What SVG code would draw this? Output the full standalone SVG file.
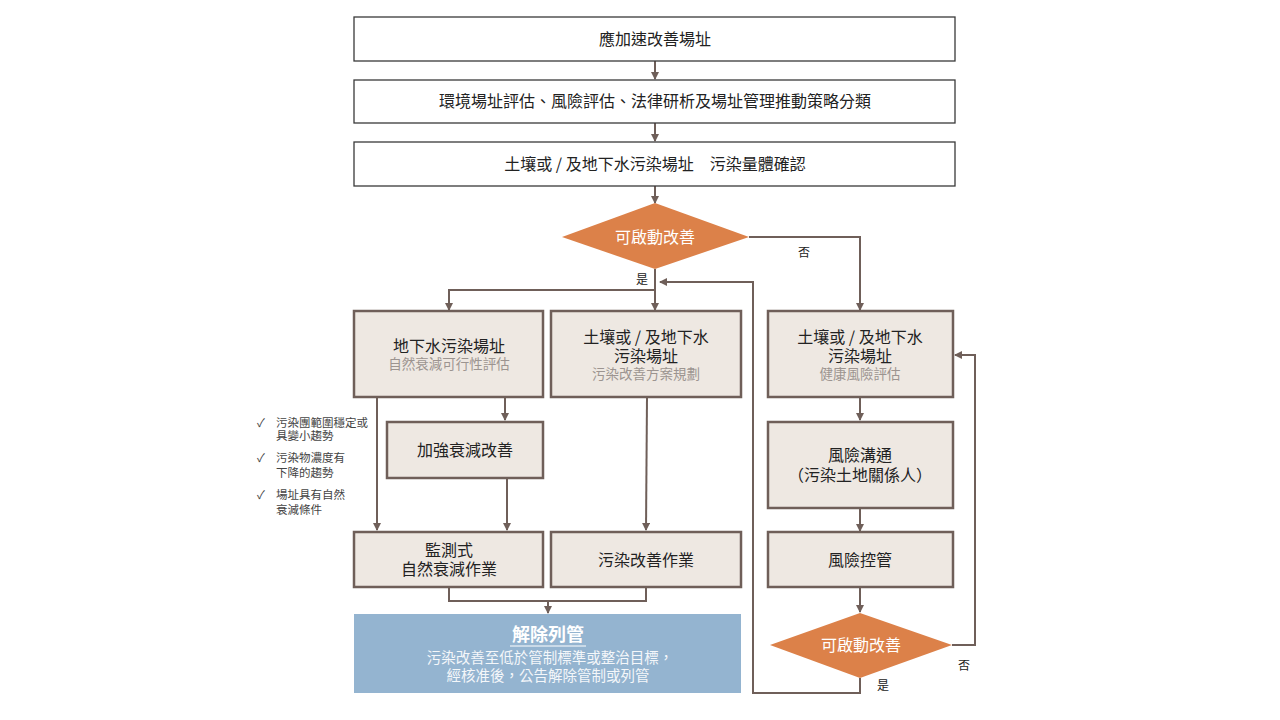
<svg xmlns="http://www.w3.org/2000/svg" width="1280" height="720" viewBox="0 0 1280 720">
<style>
text{font-family:"Noto Sans CJK TC","Noto Sans CJK SC",sans-serif;text-anchor:middle}
.top{fill:#fff;stroke:#3a3a3a;stroke-width:1.3}
.box{fill:#EEE8E2;stroke:#6F5F59;stroke-width:2.5}
.dia{fill:#DC8149}
.t{font-size:16px;fill:#222}
.s{font-size:13.5px;fill:#9C9490}
.w{font-size:16px;fill:#fff}
.lbl{font-size:12px;fill:#222}
.ck{font-size:11.5px;fill:#444;text-anchor:start}
.c{fill:none;stroke:#6F5F59;stroke-width:2}
</style>
<defs>
<marker id="ah" markerWidth="8" markerHeight="8" refX="7" refY="4" orient="auto" markerUnits="userSpaceOnUse">
<path d="M0,0 L8,4 L0,8 Z" fill="#6F5F59"/>
</marker>
</defs>
<rect width="1280" height="720" fill="#fff"/>
<g id="connectors">
<line class="c" x1="655" y1="61" x2="655" y2="79" marker-end="url(#ah)"/>
<line class="c" x1="655" y1="123" x2="655" y2="141" marker-end="url(#ah)"/>
<line class="c" x1="655" y1="186" x2="655" y2="203" marker-end="url(#ah)"/>
<line class="c" x1="655" y1="269" x2="655" y2="310" marker-end="url(#ah)"/>
<polyline class="c" points="655,290 449,290 449,310" marker-end="url(#ah)"/>
<polyline class="c" points="749,237 860,237 860,310" marker-end="url(#ah)"/>
<polyline class="c" points="860,678 860,693 753,693 753,282 660,282" marker-end="url(#ah)"/>
<line class="c" x1="505" y1="397" x2="505" y2="420" marker-end="url(#ah)"/>
<line class="c" x1="377" y1="397" x2="377" y2="530" marker-end="url(#ah)"/>
<line class="c" x1="507" y1="478" x2="507" y2="530" marker-end="url(#ah)"/>
<line class="c" x1="647" y1="397" x2="646" y2="530" marker-end="url(#ah)"/>
<polyline class="c" points="449,587 449,601 646,601 646,587"/>
<line class="c" x1="548" y1="601" x2="548" y2="613" marker-end="url(#ah)"/>
<line class="c" x1="860" y1="397" x2="860" y2="420" marker-end="url(#ah)"/>
<line class="c" x1="860" y1="508" x2="860" y2="531" marker-end="url(#ah)"/>
<line class="c" x1="860" y1="587" x2="860" y2="612" marker-end="url(#ah)"/>
<polyline class="c" points="952,645 975,645 975,355 955,355" marker-end="url(#ah)"/>
<text class="lbl" x="804" y="257">否</text>
<text class="lbl" x="642" y="284">是</text>
<text class="lbl" x="964" y="670">否</text>
<text class="lbl" x="883" y="690">是</text>
</g>
<g id="n1"><rect class="top" x="354" y="17" width="601" height="44"/><text class="t" x="655" y="45">應加速改善場址</text></g>
<g id="n2"><rect class="top" x="354" y="80" width="601" height="43"/><text class="t" x="655" y="107">環境場址評估、風險評估、法律研析及場址管理推動策略分類</text></g>
<g id="n3"><rect class="top" x="354" y="142" width="601" height="44"/><text class="t" x="655" y="170">土壤或 / 及地下水污染場址　污染量體確認</text></g>
<g id="d1"><polygon class="dia" points="562,237 655,203 749,237 655,269"/><text class="w" x="655" y="243">可啟動改善</text></g>
<g id="b-left"><rect class="box" x="354" y="311" width="189" height="86"/><text class="t" x="449" y="352">地下水污染場址<tspan class="s" x="449" dy="17">自然衰減可行性評估</tspan></text></g>
<g id="b-mid"><rect class="box" x="551" y="311" width="190" height="86"/><text class="t" x="646" y="343">土壤或 / 及地下水<tspan x="646" dy="19">污染場址</tspan><tspan class="s" x="646" dy="17">污染改善方案規劃</tspan></text></g>
<g id="b-right"><rect class="box" x="768" y="311" width="185" height="86"/><text class="t" x="860" y="343">土壤或 / 及地下水<tspan x="860" dy="19">污染場址</tspan><tspan class="s" x="860" dy="17">健康風險評估</tspan></text></g>
<g id="b-enh"><rect class="box" x="387" y="422" width="156" height="56"/><text class="t" x="465" y="456">加強衰減改善</text></g>
<g id="b-mon"><rect class="box" x="354" y="532" width="189" height="55"/><text class="t" x="449" y="556">監測式<tspan x="449" dy="19">自然衰減作業</tspan></text></g>
<g id="b-rem"><rect class="box" x="551" y="532" width="190" height="55"/><text class="t" x="646" y="566">污染改善作業</text></g>
<g id="b-comm"><rect class="box" x="768" y="422" width="185" height="86"/><text class="t" x="860" y="461">風險溝通<tspan x="860" dy="20">（污染土地關係人）</tspan></text></g>
<g id="b-ctrl"><rect class="box" x="768" y="532" width="185" height="55"/><text class="t" x="860" y="566">風險控管</text></g>
<g id="d2"><polygon class="dia" points="770,645 860,613 952,645 860,678"/><text class="w" x="861" y="651">可啟動改善</text></g>
<g id="delist"><rect x="354" y="614" width="387" height="79" fill="#94B4D0"/>
<text x="548" y="641" style="font-size:18px;font-weight:bold;fill:#fff">解除列管</text>
<line x1="510" y1="646" x2="586" y2="646" stroke="#fff" stroke-width="1"/>
<text x="550" y="663" style="font-size:14.5px;fill:#F4F7FA">污染改善至低於管制標準或整治目標，<tspan x="548" dy="18">經核准後，公告解除管制或列管</tspan></text>
</g>
<g id="checklist">
<text class="ck" x="257" y="427">✓</text><text class="ck" x="276" y="427">污染團範圍穩定或<tspan x="276" dy="13">具變小趨勢</tspan></text>
<text class="ck" x="257" y="462">✓</text><text class="ck" x="276" y="462">污染物濃度有<tspan x="276" dy="15">下降的趨勢</tspan></text>
<text class="ck" x="257" y="499">✓</text><text class="ck" x="276" y="499">場址具有自然<tspan x="276" dy="15">衰減條件</tspan></text>
</g>
</svg>
